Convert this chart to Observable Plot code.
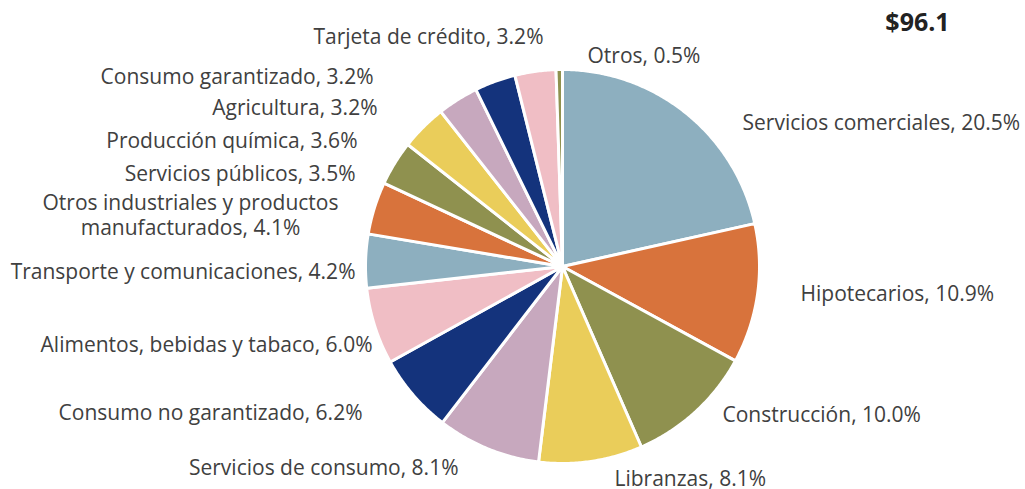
<!DOCTYPE html>
<html>
<head>
<meta charset="utf-8">
<script src="https://cdn.jsdelivr.net/npm/d3@7"></script>
<script src="https://cdn.jsdelivr.net/npm/@observablehq/plot@0.6"></script>
<style>
  html, body { margin: 0; padding: 0; background: #fff; }
  #chart { width: 1025px; height: 489px; }
</style>
</head>
<body>
<div id="chart"></div>
<script>
// ---- data ----
const categories = [
  "Servicios comerciales", "Hipotecarios", "Construcción", "Libranzas",
  "Servicios de consumo", "Consumo no garantizado", "Alimentos, bebidas y tabaco",
  "Transporte y comunicaciones", "Otros industriales y productos manufacturados",
  "Servicios públicos", "Producción química", "Agricultura", "Consumo garantizado",
  "Tarjeta de crédito", "Otros"
];
const values = [20.5, 10.9, 10.0, 8.1, 8.1, 6.2, 6.0, 4.2, 4.1, 3.5, 3.6, 3.2, 3.2, 3.2, 0.5];
const totalLabel = "$96.1";

// ---- styling / layout (not data) ----
const colors = [
  "#8DAFBF", "#D8733C", "#8F914F", "#EACD5A", "#C7A8BE", "#14337C", "#F0BEC5",
  "#8DAFBF", "#D8733C", "#8F914F", "#EACD5A", "#C7A8BE", "#14337C", "#F0BEC5",
  "#8F914F"
];
const W = 1025, H = 489;
const cx = 562, cy = 266, R = 197;
// label anchors, offsets from pie centre in px, and text anchor
const labelLayout = [
  {dx: 180, dy: -145, anchor: "start"},
  {dx: 238, dy: 26, anchor: "start"},
  {dx: 160, dy: 147, anchor: "start"},
  {dx: 52, dy: 211, anchor: "start"},
  {dx: -104, dy: 200, anchor: "end"},
  {dx: -200, dy: 145, anchor: "end"},
  {dx: -190, dy: 77, anchor: "end"},
  {dx: -207, dy: 4, anchor: "end"},
  {dx: -372, dy: -52, anchor: "middle"},
  {dx: -207, dy: -94, anchor: "end"},
  {dx: -205, dy: -127, anchor: "end"},
  {dx: -185, dy: -160, anchor: "end"},
  {dx: -189, dy: -191, anchor: "end"},
  {dx: -19, dy: -231, anchor: "end"},
  {dx: 25, dy: -212, anchor: "start"}
];

// ---- build slice polygons ----
const pie = d3.pie().sort(null).value(d => d)(values);
const slicePts = [];
pie.forEach((p, i) => {
  const n = Math.max(2, Math.ceil((p.endAngle - p.startAngle) / (Math.PI / 360)));
  slicePts.push({k: i, x: 0, y: 0, c: colors[i]});
  for (let j = 0; j <= n; j++) {
    const a = p.startAngle + (p.endAngle - p.startAngle) * j / n;
    slicePts.push({k: i, x: R * Math.sin(a), y: -R * Math.cos(a), c: colors[i]});
  }
  slicePts.push({k: i, x: 0, y: 0, c: colors[i]});
});

const fmt = d3.format(".1f");
const labels = categories.map((c, i) => {
  let t = `${c}, ${fmt(values[i])}%`;
  if (t.length > 40) t = t.replace(" manufacturados", "\nmanufacturados");
  return {t, ...labelLayout[i]};
});

const chart = Plot.plot({
  width: W, height: H,
  margin: 0,
  x: {domain: [-cx, W - cx], range: [0, W], axis: null},
  y: {domain: [-cy, H - cy], range: [0, H], axis: null},
  color: {type: "identity"},
  style: {fontFamily: "'Open Sans', sans-serif", background: "#fff"},
  marks: [
    Plot.line(slicePts, {
      x: "x", y: "y", z: "k", fill: "c",
      stroke: "#fff", strokeWidth: 3, strokeLinejoin: "round", curve: "linear"
    }),
    ...["start", "end", "middle"].map(a => Plot.text(labels.filter(d => d.anchor === a), {
      x: "dx", y: "dy", text: "t", textAnchor: a,
      fontSize: 21, fill: "#404040", lineHeight: 1.19
    })),
    Plot.text([totalLabel], {
      x: () => 355, y: () => -244, text: d => d, textAnchor: "middle",
      fontSize: 25, fontWeight: "bold", fill: "#222"
    })
  ]
});
document.getElementById("chart").appendChild(chart);
</script>
</body>
</html>
